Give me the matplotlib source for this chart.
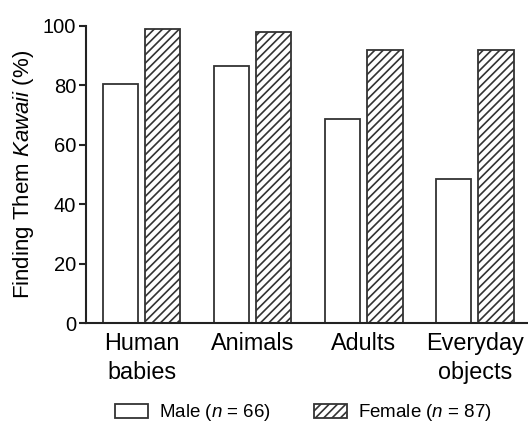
import matplotlib
matplotlib.use("Agg")
import matplotlib.pyplot as plt
import numpy as np

plt.rcParams['font.family'] = ['Liberation Sans', 'DejaVu Sans']
plt.rcParams['mathtext.fontset'] = 'custom'
plt.rcParams['mathtext.rm'] = 'Liberation Sans'
plt.rcParams['mathtext.it'] = 'Liberation Sans:italic'
plt.rcParams['hatch.linewidth'] = 1.2
plt.rcParams['hatch.color'] = '#222222'

# datos
categorias = ["Human\nbabies", "Animals", "Adults", "Everyday\nobjects"]
hombres = [80.5, 86.5, 68.5, 48.5]
mujeres = [99, 98, 92, 92]
etiquetas = [r"Male ($\it{n}$ = 66)", r"Female ($\it{n}$ = 87)"]

fig = plt.figure(figsize=(5.28, 4.23), dpi=100)
ax = fig.add_axes([0.163, 0.236, 0.837, 0.703])

x = np.arange(len(categorias))
ancho = 0.32
borde = '#333333'
ax.bar(x - 0.19, hombres, ancho, color='white', edgecolor=borde, linewidth=1.3, label=etiquetas[0])
ax.bar(x + 0.19, mujeres, ancho, color='white', edgecolor=borde, linewidth=1.3, hatch='////', label=etiquetas[1])

ax.set_xlim(-0.5, 3.48)
ax.set_ylim(0, 100)
ax.set_yticks([0, 20, 40, 60, 80, 100])
ax.tick_params(axis='y', labelsize=14.5, width=1.5, length=5, color='#222222', pad=2)
ax.set_xticks(x)
ax.set_xticklabels(categorias, fontsize=16.8, linespacing=1.35)
ax.tick_params(axis='x', length=0, pad=6)
for s in ['top', 'right']:
    ax.spines[s].set_visible(False)
for s in ['left', 'bottom']:
    ax.spines[s].set_linewidth(1.5)
    ax.spines[s].set_color('#222222')

ax.set_ylabel(r"Finding Them $\it{Kawaii}$ (%)", fontsize=16, labelpad=5)

fig.legend(loc='center', bbox_to_anchor=(0.575, 0.024), ncol=2, frameon=False,
           fontsize=13.5, handlelength=1.75, handleheight=0.75, columnspacing=2.3,
           handletextpad=0.6)

fig.savefig("out.png", dpi=100)
